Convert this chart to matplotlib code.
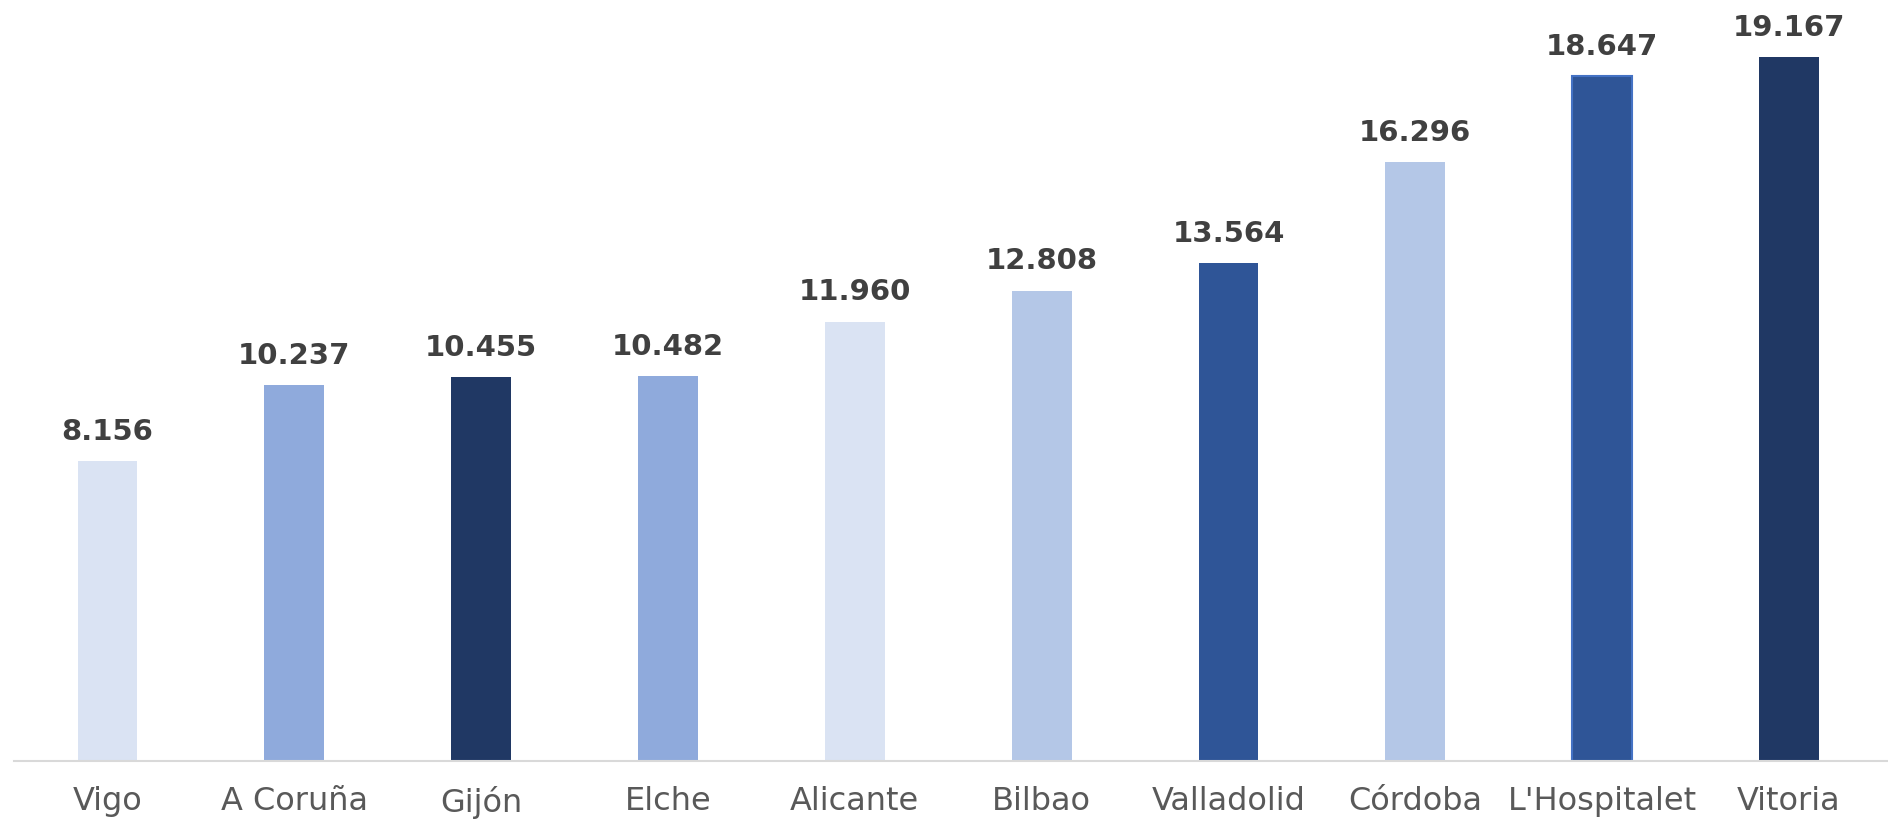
import matplotlib.pyplot as plt

ciudades = ['Vigo', 'A Coruña', 'Gijón', 'Elche', 'Alicante', 'Bilbao',
            'Valladolid', 'Córdoba', "L'Hospitalet", 'Vitoria']
valores = [8.156, 10.237, 10.455, 10.482, 11.960, 12.808, 13.564, 16.296, 18.647, 19.167]
etiquetas = ['8.156', '10.237', '10.455', '10.482', '11.960', '12.808',
             '13.564', '16.296', '18.647', '19.167']
colores = ['#DAE3F3', '#8FAADC', '#203864', '#8FAADC', '#DAE3F3', '#B4C7E7',
           '#2F5597', '#B4C7E7', '#2F5597', '#203864']

plt.rcParams['font.family'] = ['DejaVu Sans']

fig = plt.figure(figsize=(18.88, 8.23), dpi=100)
ax = fig.add_axes([14 / 1888, 62 / 823, 1 - 14 / 1888, 734.6 / 823])

x = range(len(ciudades))
barras = ax.bar(x, valores, width=0.32, color=colores)
barras[8].set_edgecolor('#4472C4')
barras[8].set_linewidth(1.5)

for xi, v, t in zip(x, valores, etiquetas):
    ax.annotate(t, (xi, v), xytext=(0, 11), textcoords='offset points',
                ha='center', va='bottom', fontsize=21, fontweight='bold',
                color='#404040')

ax.set_xlim(-0.5, 9.53)
ax.set_ylim(0, 20)
ax.set_xticks(list(x))
ax.set_xticklabels(ciudades, fontsize=23, color='#595959')
ax.tick_params(axis='x', length=0, pad=18)
ax.set_yticks([])
for s in ['top', 'right', 'left']:
    ax.spines[s].set_visible(False)
ax.spines['bottom'].set_color('#D9D9D9')
ax.spines['bottom'].set_linewidth(1.5)

fig.savefig('out.png', dpi=100)
